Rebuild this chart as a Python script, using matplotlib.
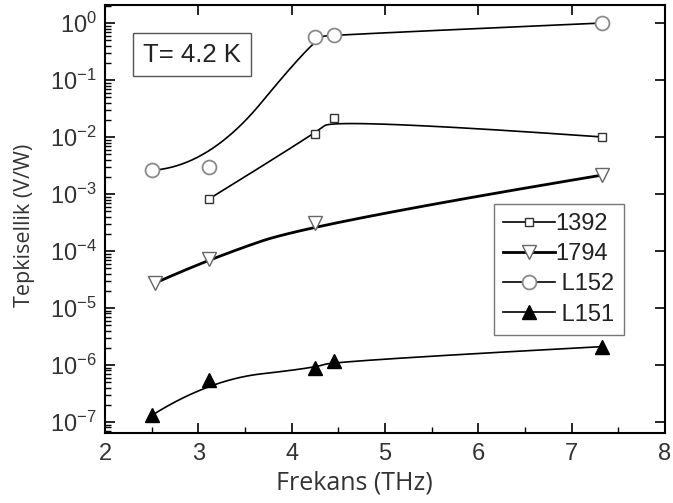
import numpy as np
import matplotlib
matplotlib.use("Agg")
import matplotlib.pyplot as plt
from matplotlib.ticker import MultipleLocator, NullFormatter, FixedLocator, LogFormatterSciNotation

plt.rcParams['mathtext.fontset'] = 'custom'
plt.rcParams['mathtext.rm'] = 'Liberation Sans'
plt.rcParams['mathtext.it'] = 'Liberation Sans:italic'
plt.rcParams['font.family'] = ['Liberation Sans', 'DejaVu Sans']

# data
x_1392 = [3.11, 4.25, 4.45, 7.33]
y_1392 = [8.1e-4, 1.15e-2, 2.15e-2, 1.0e-2]
x_1794 = [2.54, 3.11, 4.25, 7.33]
y_1794 = [2.75e-5, 7.2e-5, 3.1e-4, 2.15e-3]
x_L152 = [2.50, 3.11, 4.25, 4.45, 7.33]
y_L152 = [2.6e-3, 3.0e-3, 0.56, 0.62, 1.0]
x_L151 = [2.50, 3.11, 4.25, 4.45, 7.33]
y_L151 = [1.3e-7, 5.5e-7, 8.9e-7, 1.17e-6, 2.1e-6]
labels = ['1392', '1794', ' L152', ' L151']
y_decades = [1e-7, 1e-6, 1e-5, 1e-4, 1e-3, 1e-2, 1e-1, 1e0]


def bspline(xs, ys, k=2, n=400):
    """Clamped uniform B-spline with data as control points, in log-y space."""
    P = np.column_stack([np.asarray(xs, float), np.log10(ys)])
    m = len(P)
    k = min(k, m - 1)
    inner = np.linspace(0, 1, m - k + 1)
    t = np.concatenate([[0] * k, inner, [1] * k])
    u = np.linspace(0, 1, n)
    u[-1] = 1 - 1e-12

    def N(i, p, uu):
        if p == 0:
            return np.where((t[i] <= uu) & (uu < t[i + 1]), 1.0, 0.0)
        a = 0.0
        b = 0.0
        d1 = t[i + p] - t[i]
        d2 = t[i + p + 1] - t[i + 1]
        if d1 > 0:
            a = (uu - t[i]) / d1 * N(i, p - 1, uu)
        if d2 > 0:
            b = (t[i + p + 1] - uu) / d2 * N(i + 1, p - 1, uu)
        return a + b

    C = np.zeros((n, 2))
    for i in range(m):
        C += N(i, k, u)[:, None] * P[i]
    return C[:, 0], 10 ** C[:, 1]


fig = plt.figure(figsize=(6.73, 5.03), dpi=100)
ax = fig.add_axes([105 / 673, 1 - 433 / 503, 560 / 673, 428 / 503])

series = [
    (x_1392, y_1392, dict(marker='s', ms=6, mfc='white', mec='#333333', mew=1.0), 1.2),
    (x_1794, y_1794, dict(marker='v', ms=10, mfc='white', mec='#666666', mew=1.0), 2.0),
    (x_L152, y_L152, dict(marker='o', ms=10, mfc='white', mec='#8a8a8a', mew=1.3), 1.2),
    (x_L151, y_L151, dict(marker='^', ms=10.5, mfc='black', mec='black', mew=1.0), 1.2),
]
handles = []
for (xs, ys, mk, lw), lab in zip(series, labels):
    cx, cy = bspline(xs, ys)
    ax.plot(cx, cy, color='black', lw=lw, zorder=2)
    ax.plot(xs, ys, ls='none', zorder=3, **mk)
    h, = ax.plot([], [], color='black', lw=lw, label=lab, **mk)
    handles.append(h)

ax.set_yscale('log')
ax.set_xlim(2, 8)
ax.set_ylim(6.4e-8, 2.07)
ax.xaxis.set_major_locator(MultipleLocator(1))
ax.xaxis.set_minor_locator(MultipleLocator(0.5))
ax.yaxis.set_major_locator(FixedLocator(y_decades))
ax.yaxis.set_major_formatter(LogFormatterSciNotation())
minor = [d * s for d in [1e-8] + y_decades for s in range(2, 10)]
minor = [v for v in minor if 6.4e-8 <= v <= 2.07]
ax.yaxis.set_minor_locator(FixedLocator(minor))
ax.yaxis.set_minor_formatter(NullFormatter())

ax.tick_params(which='major', direction='in', length=7, width=1.2, labelsize=17,
               top=True, right=True, colors='black')
ax.tick_params(which='minor', direction='in', length=4, width=1.0, top=False, right=False)
ax.tick_params(axis='x', which='minor', bottom=True)
ax.tick_params(axis='y', pad=6)
ax.tick_params(axis='x', pad=7)
for lab in ax.get_xticklabels() + ax.get_yticklabels():
    lab.set_color('#333333')
for s in ax.spines.values():
    s.set_linewidth(1.5)

ax.set_xlabel('Frekans (THz)', fontsize=18, family=['Open Sans', 'DejaVu Sans'], color='#333333')
ax.xaxis.set_label_coords(0.445, -0.088)
ax.xaxis.label.set_va('top')
ax.set_ylabel('Tepkisellik (V/W)', fontsize=15.5, family=['Open Sans', 'DejaVu Sans'], color='#333333')
ax.yaxis.set_label_coords(-0.125, 0.485)

ax.text(0.068, 0.884, 'T= 4.2 K', transform=ax.transAxes, fontsize=18.5, ha='left', va='center',
        color='#222222',
        bbox=dict(boxstyle='square,pad=0.38', fc='white', ec='#555555', lw=1.0))

leg = ax.legend(handles=handles, loc='upper left', bbox_to_anchor=(389 / 560, 1 - 199 / 428),
                fontsize=17, frameon=True, fancybox=False, edgecolor='#555555',
                handlelength=2.2, handletextpad=0.0, borderpad=0.4, labelspacing=0.34,
                borderaxespad=0)
leg.get_frame().set_linewidth(1.0)
for t in leg.get_texts():
    t.set_color('#222222')

fig.savefig('out.png', dpi=100)
